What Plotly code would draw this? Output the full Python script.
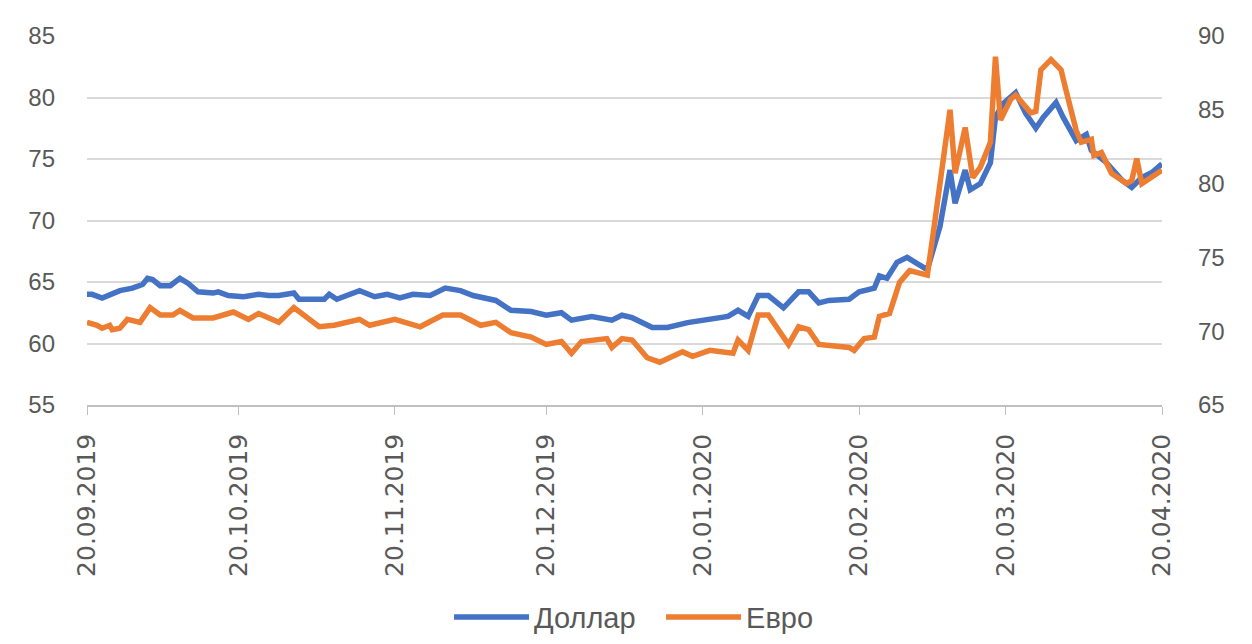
import datetime as dt
import plotly.graph_objects as go

start_date = "2019-09-20"

usd_days = [0, 1, 3, 6.5, 9, 11, 12, 13, 14.5, 16.5, 18.4, 20, 22, 25, 26, 28, 31, 34, 36, 38,
            41, 42, 47, 48, 49.5, 54, 57, 59.5, 62, 64.6, 68, 71, 74, 76.5, 81, 84, 88, 91, 94, 96,
            100, 104, 106, 108, 112, 115, 119, 123, 127, 129, 131, 133, 135, 138, 141, 143, 145, 147,
            151, 153, 156, 157, 158.5, 160.5, 162.5, 164.5, 166.5, 169, 171, 172, 174, 175, 177, 179,
            180, 181.5, 184, 186, 188, 189.5, 192, 193.4, 196, 198, 199, 202, 205, 207, 209, 211, 213]
usd_values = [64.0, 64.0, 63.7, 64.3, 64.5, 64.8, 65.3, 65.2, 64.7, 64.7, 65.3, 64.9, 64.2, 64.1, 64.2,
              63.9, 63.8, 64.0, 63.9, 63.9, 64.1, 63.6, 63.6, 64.0, 63.6, 64.3, 63.8, 64.0, 63.7, 64.0,
              63.9, 64.5, 64.3, 63.9, 63.5, 62.7, 62.6, 62.3, 62.5, 61.9, 62.2, 61.9, 62.3, 62.1, 61.3,
              61.3, 61.7, 61.9, 62.2, 62.7, 62.2, 63.9, 63.9, 62.9, 64.2, 64.2, 63.3, 63.5, 63.6, 64.2,
              64.5, 65.5, 65.3, 66.6, 67.0, 66.5, 66.0, 69.5, 74.1, 71.4, 74.1, 72.5, 73.0, 74.7, 78.4,
              79.5, 80.4, 78.7, 77.5, 78.4, 79.6, 78.4, 76.5, 77.0, 75.7, 74.7, 73.3, 72.7, 73.5, 73.9,
              74.6]

eur_days = [0, 2, 3, 4.5, 5, 6.5, 8, 10.5, 12.5, 14.5, 17, 18.4, 21, 25, 29, 32, 34, 38, 41, 46, 49,
            54, 56, 61, 66, 70.5, 74, 78, 81, 84, 88, 91, 94, 96, 98, 103, 104, 106, 108, 111, 113.5,
            118, 120, 123.4, 128, 129, 131, 133, 135, 139, 141, 143, 145, 151, 152, 154, 156, 157, 159,
            161, 163, 166.5, 167.5, 169.6, 171, 172, 174, 175.5, 177, 179, 180, 181, 183, 184, 187, 188,
            189, 191, 193, 194, 196, 197, 199, 199.5, 201, 203, 206, 207, 208, 209, 211, 213]
eur_values = [70.6, 70.4, 70.2, 70.4, 70.1, 70.2, 70.8, 70.6, 71.6, 71.1, 71.1, 71.4, 70.9, 70.9, 71.3,
              70.8, 71.2, 70.6, 71.6, 70.3, 70.4, 70.8, 70.4, 70.8, 70.3, 71.1, 71.1, 70.4, 70.6, 69.9,
              69.6, 69.1, 69.3, 68.5, 69.3, 69.5, 68.9, 69.5, 69.4, 68.2, 67.9, 68.6, 68.3, 68.7, 68.5,
              69.4, 68.7, 71.1, 71.1, 69.1, 70.3, 70.1, 69.1, 68.9, 68.7, 69.5, 69.6, 71.0, 71.2, 73.3,
              74.1, 73.8, 76.2, 81.1, 85.0, 80.7, 83.8, 80.4, 81.1, 82.8, 88.6, 84.3, 85.7, 86.0, 84.8,
              84.9, 87.7, 88.4, 87.7, 86.3, 83.6, 82.8, 83.0, 81.9, 82.1, 80.7, 80.0, 80.2, 81.7, 80.0,
              80.4, 80.9]

tick_dates = ["2019-09-20", "2019-10-20", "2019-11-20", "2019-12-20", "2020-01-20",
              "2020-02-20", "2020-03-20", "2020-04-20"]
tick_labels = ["20.09.2019", "20.10.2019", "20.11.2019", "20.12.2019", "20.01.2020",
               "20.02.2020", "20.03.2020", "20.04.2020"]

left_ticks = [55, 60, 65, 70, 75, 80, 85]
right_ticks = [65, 70, 75, 80, 85, 90]

base = dt.datetime.fromisoformat(start_date)


def to_dates(days):
    return [base + dt.timedelta(hours=d * 24) for d in days]


fig = go.Figure()
fig.add_trace(go.Scatter(x=to_dates(usd_days), y=usd_values, name="Доллар", mode="lines",
                         line=dict(color="#4472C4", width=5.5), yaxis="y"))
fig.add_trace(go.Scatter(x=to_dates(eur_days), y=eur_values, name="Евро", mode="lines",
                         line=dict(color="#ED7D31", width=5.5), yaxis="y2"))

txt = "#595959"
fig.update_layout(
    width=1236, height=628,
    margin=dict(l=79, r=82, t=28, b=231, autoexpand=False),
    paper_bgcolor="white", plot_bgcolor="white",
    font=dict(family="Liberation Sans, Arial, sans-serif", size=24, color=txt),
    showlegend=True,
    legend=dict(orientation="h", x=0.534, xanchor="center", y=-0.575, yanchor="middle",
                font=dict(size=29, color=txt), itemwidth=75, traceorder="normal",
                entrywidth=122, entrywidthmode="pixels"),
    xaxis=dict(type="date", range=[tick_dates[0], tick_dates[-1]],
               tickvals=tick_dates, ticktext=tick_labels, tickangle=-90,
               showgrid=False, showline=True, linecolor="#BFBFBF", linewidth=1.5,
               ticks="outside", ticklen=8, tickcolor="#BFBFBF",
               tickfont=dict(family="DejaVu Sans, sans-serif", size=25, color=txt),
               ticklabelstandoff=9, zeroline=False),
    yaxis=dict(range=[55, 85], tickvals=left_ticks, showgrid=True, gridcolor="#D9D9D9",
               gridwidth=1.5, zeroline=False, showline=False,
               tickfont=dict(size=24, color=txt), ticklabelstandoff=31),
    yaxis2=dict(range=[65, 90], tickvals=right_ticks, overlaying="y", side="right",
                showgrid=False, zeroline=False, showline=False,
                tickfont=dict(size=24, color=txt), ticklabelstandoff=35),
)

fig.write_html("out.html")
